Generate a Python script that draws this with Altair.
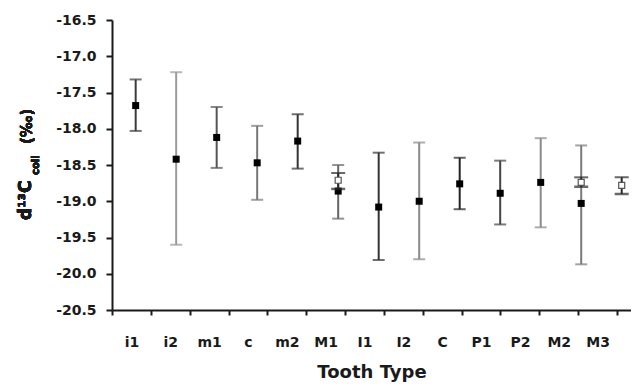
import altair as alt
import pandas as pd

teeth = ["i1", "i2", "m1", "c", "m2", "M1", "I1", "I2", "C", "P1", "P2", "M2", "M3"]

# filled-square series
f_teeth = ["i1", "i2", "m1", "c", "m2", "M1", "I1", "I2", "C", "P1", "P2", "M2"]
f_mean = [-17.68, -18.42, -18.12, -18.47, -18.17, -18.86, -19.08, -19.00, -18.76, -18.89, -18.74, -19.03]
f_low = [-18.03, -19.60, -18.54, -18.98, -18.55, -19.24, -19.81, -19.80, -19.11, -19.32, -19.36, -19.87]
f_high = [-17.32, -17.22, -17.70, -17.96, -17.80, -18.50, -18.33, -18.19, -18.40, -18.44, -18.13, -18.23]
f_color = ["#3a3a3a", "#9a9a9a", "#555555", "#777777", "#333333", "#666666",
           "#333333", "#8a8a8a", "#222222", "#444444", "#8a8a8a", "#7a7a7a"]

# open-square series
o_teeth = ["M1", "M2", "M3"]
o_mean = [-18.71, -18.74, -18.78]
o_low = [-18.83, -18.80, -18.90]
o_high = [-18.61, -18.67, -18.67]
o_color = ["#2a2a2a", "#2a2a2a", "#2a2a2a"]

y_ticks = [-20.5, -20.0, -19.5, -19.0, -18.5, -18.0, -17.5, -17.0, -16.5]

fdf = pd.DataFrame({"tooth": f_teeth, "mean": f_mean, "low": f_low, "high": f_high, "col": f_color})
odf = pd.DataFrame({"tooth": o_teeth, "mean": o_mean, "low": o_low, "high": o_high, "col": o_color})
cats = pd.DataFrame({"tooth": teeth})

FONT = "DejaVu Sans"
ysc = alt.Scale(domain=[-20.5, -16.5], nice=False, zero=False)
yax = alt.Axis(title=None, values=y_ticks,
               labelExpr="(datum.value < 0 ? '-' : '') + format(abs(datum.value), '.1f')")
xpt = alt.X("tooth:N", sort=teeth,
            scale=alt.Scale(type="point", domain=teeth, padding=0.407, align=0.718),
            axis=None)


def series(df, filled):
    base = alt.Chart(df)
    cap = 12 if filled else 14
    rule = base.mark_rule(strokeWidth=2).encode(
        x=xpt, y=alt.Y("low:Q", scale=ysc, axis=yax), y2="high:Q",
        color=alt.Color("col:N", scale=None))
    cap_lo = base.mark_tick(size=cap, thickness=2 if filled else 2.5).encode(
        x=xpt, y=alt.Y("low:Q", scale=ysc, axis=yax), color=alt.Color("col:N", scale=None))
    cap_hi = base.mark_tick(size=cap, thickness=2).encode(
        x=xpt, y=alt.Y("high:Q", scale=ysc, axis=yax), color=alt.Color("col:N", scale=None))
    if filled:
        pts = base.mark_point(shape="square", filled=True, size=49, color="#000000", opacity=1).encode(
            x=xpt, y=alt.Y("mean:Q", scale=ysc, axis=yax))
    else:
        pts = base.mark_point(shape="square", filled=True, size=36, fill="#ffffff",
                              stroke="#555555", strokeWidth=1.2, opacity=1).encode(
            x=xpt, y=alt.Y("mean:Q", scale=ysc, axis=yax))
    return [rule, cap_lo, cap_hi, pts]


data_layer = alt.layer(*series(fdf, True), *series(odf, False))

axis_layer = alt.Chart(cats).mark_point(opacity=0).encode(
    x=alt.X("tooth:N", sort=teeth,
            scale=alt.Scale(type="band", domain=teeth, paddingInner=0, paddingOuter=0.18, align=0),
            axis=alt.Axis(title="Tooth Type", tickBand="extent", labelAngle=0)),
    y=alt.value(0),
)

t_main = alt.Chart(cats).mark_text(
    text="d¹³C", angle=270, align="left", baseline="middle",
    font=FONT, fontSize=17, fontWeight="bold", color="#1a1a1a"
).encode(x=alt.value(-86), y=alt.value(200))
t_sub = alt.Chart(cats).mark_text(
    text="coll", angle=270, align="left", baseline="middle",
    font=FONT, fontSize=10, fontWeight="bold", color="#1a1a1a"
).encode(x=alt.value(-76), y=alt.value(155))
t_unit = alt.Chart(cats).mark_text(
    text="(‰)", angle=270, align="left", baseline="middle",
    font=FONT, fontSize=15, fontWeight="bold", color="#1a1a1a"
).encode(x=alt.value(-85), y=alt.value(124))

chart = alt.layer(axis_layer, data_layer, t_main, t_sub, t_unit).resolve_scale(
    x="independent"
).properties(
    width=519, height=290,
    padding={"left": 104, "top": 12, "right": 0, "bottom": 72},
    autosize=alt.AutoSizeParams(type="none"),
).configure_view(stroke=None).configure_axis(
    grid=False, domainColor="#1a1a1a", domainWidth=2, tickColor="#1a1a1a", tickWidth=2,
    labelFont=FONT, labelFontWeight="bold", labelColor="#1a1a1a",
    titleFont=FONT, titleFontWeight="bold", titleColor="#1a1a1a",
).configure_axisY(
    labelFontSize=14, tickSize=6, labelPadding=10,
).configure_axisX(
    labelFontSize=14, tickSize=5, labelPadding=20, titleFontSize=18, titlePadding=14,
)

chart.save("out.html", embed_options={"renderer": "svg", "actions": False})
